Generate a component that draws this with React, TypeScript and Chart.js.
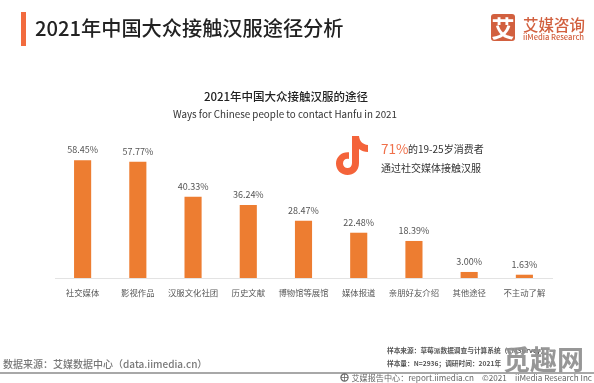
import React, { useEffect, useRef } from "react";
import { Chart, registerables } from "chart.js";

Chart.register(...registerables);

const categories = ["社交媒体", "影视作品", "汉服文化社团", "历史文献", "博物馆等展馆", "媒体报道", "亲朋好友介绍", "其他途径", "不主动了解"];
const values = [58.45, 57.77, 40.33, 36.24, 28.47, 22.48, 18.39, 3.0, 1.63];
const valueLabels = ["58.45%", "57.77%", "40.33%", "36.24%", "28.47%", "22.48%", "18.39%", "3.00%", "1.63%"];
const pageTitle = "2021年中国大众接触汉服途径分析";
const chartTitle = "2021年中国大众接触汉服的途径";
const chartSubtitle = "Ways for Chinese people to contact Hanfu in 2021";

const FONT = '"Noto Sans CJK SC", "Noto Sans", sans-serif';

const labelPlugin = {
  id: "valueLabels",
  afterDatasetsDraw(chart: any) {
    const { ctx } = chart;
    const meta = chart.getDatasetMeta(0);
    ctx.save();
    ctx.font = `9px ${FONT}`;
    ctx.fillStyle = "#555555";
    ctx.textAlign = "center";
    ctx.textBaseline = "middle";
    meta.data.forEach((bar: any, i: number) => {
      ctx.fillText(valueLabels[i], bar.x, bar.y - 10.5);
    });
    ctx.restore();
  },
};

function T(props: { x: number; y: number; size: number; color: string; weight?: number; children: React.ReactNode; center?: boolean; right?: boolean; spacing?: number }) {
  const { x, y, size, color, weight, children, center, right, spacing } = props;
  const style: React.CSSProperties = {
    position: "absolute",
    top: y - size,
    height: size * 2,
    lineHeight: `${size * 2}px`,
    fontSize: size,
    color,
    fontWeight: weight ?? 400,
    whiteSpace: "nowrap",
    fontFamily: FONT,
    letterSpacing: spacing ?? 0,
  };
  if (center) {
    style.left = x - 200;
    style.width = 400;
    style.textAlign = "center";
  } else if (right) {
    style.right = 594 - x;
  } else {
    style.left = x;
  }
  return <div style={style}>{children}</div>;
}

export default function App() {
  const ref = useRef<HTMLCanvasElement>(null);
  useEffect(() => {
    document.body.style.margin = "0";
    const chart = new Chart(ref.current!, {
      type: "bar",
      data: {
        labels: categories,
        datasets: [
          {
            data: values,
            backgroundColor: "#ED7D31",
            categoryPercentage: 0.31,
            barPercentage: 1,
          },
        ],
      },
      options: {
        responsive: false,
        animation: false,
        layout: { padding: { left: 55, right: 42, top: 137, bottom: 0 } },
        plugins: { legend: { display: false }, tooltip: { enabled: false } },
        scales: {
          x: {
            grid: { display: false, drawTicks: false },
            border: { color: "#e3e3e3", width: 1 },
            ticks: { color: "#595959", font: { size: 8.4, family: FONT }, padding: 10, maxRotation: 0, autoSkip: false },
            afterFit(scale: any) {
              scale.height = 105;
            },
          },
          y: { display: false, min: 0, max: 70, afterFit(scale: any) { scale.width = 0; } },
        },
      },
      plugins: [labelPlugin],
    });
    return () => chart.destroy();
  }, []);

  return (
    <div style={{ position: "relative", width: 594, height: 383, background: "#fff", overflow: "hidden", filter: "blur(0.35px)" }}>
      <canvas ref={ref} width={594} height={383} style={{ position: "absolute", left: 0, top: 0, display: "block" }} />

      <div style={{ position: "absolute", left: 21, top: 12, width: 5, height: 34, background: "#F26B3E" }} />
      <T x={35} y={28} size={20.2} color="#222" weight={500}>{pageTitle}</T>

      <div style={{ position: "absolute", left: 491, top: 14, width: 24, height: 27, borderRadius: 3, background: "#D2603F", color: "#fff", fontSize: 23, lineHeight: "27px", textAlign: "center", fontWeight: 700, fontFamily: FONT }}>艾</div>
      <T x={523} y={24} size={15.5} color="#D2603F" weight={500}>艾媒咨询</T>
      <T x={523} y={36.5} size={7.6} color="#D2603F" weight={500}>iiMedia Research</T>

      <T x={286} y={96} size={11.5} color="#222" weight={500} center>{chartTitle}</T>
      <T x={285} y={115} size={9.8} color="#333" center>{chartSubtitle}</T>

      <svg style={{ position: "absolute", left: 335, top: 135 }} width={35} height={42} viewBox="0 0 35 42">
        <path
          fill="#F4633A"
          d="M17 1 H24 C24.5 6 27.5 9.5 33 10 V17 C29.5 17 26.5 16 24 14 V28 C24 36 18.5 40 12.5 40 C6 40 1 35 1 28.5 C1 21.5 7 16.5 14 17.2 V24 C10.5 23.2 8 25.5 8 28.5 C8 31.2 10 33 12.5 33 C15.2 33 17 31 17 28 Z"
        />
      </svg>
      <T x={381} y={148} size={13.5} color="#F0704A">71%</T>
      <T x={408} y={149} size={10} color="#333">的19-25岁消费者</T>
      <T x={381} y={168} size={10} color="#333">通过社交媒体接触汉服</T>

      <T x={3} y={364} size={10} color="#777" weight={500}>数据来源：艾媒数据中心（data.iimedia.cn）</T>
      <T x={387} y={351} size={6.7} color="#555" weight={700}>样本来源：草莓派数据调查与计算系统（CMSurvey）</T>
      <T x={387} y={364} size={6.7} color="#555" weight={700}>样本量：N=2936；调研时间：2021年</T>
      <div style={{ position: "absolute", left: 0, top: 372, width: 594, height: 1.5, background: "#a8a8a8" }} />
      <svg style={{ position: "absolute", left: 340, top: 373 }} width={9} height={9} viewBox="0 0 9 9">
        <circle cx={4.5} cy={4.5} r={3.6} fill="none" stroke="#666" strokeWidth={1.2} />
        <path d="M1 4.5 H8 M4.5 1 V8" stroke="#666" strokeWidth={0.8} />
      </svg>
      <T x={592} y={378} size={8.13} color="#666" right>艾媒报告中心：report.iimedia.cn　©2021　iiMedia Research Inc</T>
      <T x={503} y={359} size={27} color="rgba(145,145,145,0.95)" weight={700}>觅趣网</T>
    </div>
  );
}
